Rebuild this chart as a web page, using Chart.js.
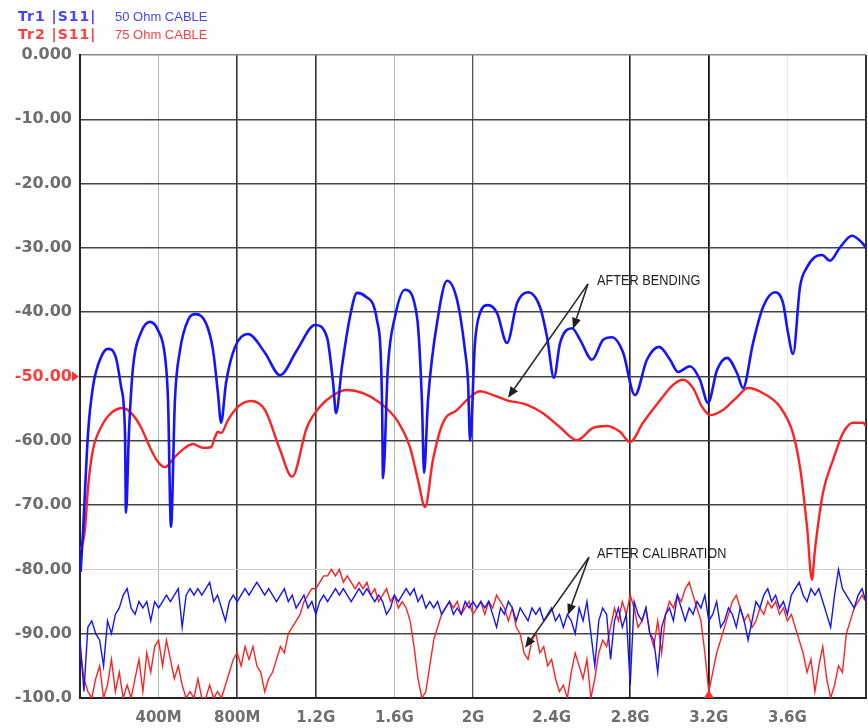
<!DOCTYPE html>
<html>
<head>
<meta charset="utf-8">
<script src="https://cdn.jsdelivr.net/npm/chart.js@4.4.0/dist/chart.umd.min.js"></script>
<style>
  html, body { margin: 0; padding: 0; background: #fff; }
  #wrap { width: 868px; height: 728px; position: relative; }
</style>
</head>
<body>
<div id="wrap"><canvas id="s11Chart"></canvas></div>
<script>
// x axis: frequency in GHz, y axis: |S11| in dB
const xTickLabels = ['', '400M', '800M', '1.2G', '1.6G', '2G', '2.4G', '2.8G', '3.2G', '3.6G', ''];
const yTickLabels = ['-100.0', '-90.00', '-80.00', '-70.00', '-60.00', '-50.00', '-40.00', '-30.00', '-20.00', '-10.00', '0.000'];

// Tr1, 50 Ohm cable, after bending
const tr1BendGHz = [0.003,0.015,0.041,0.066,0.107,0.142,0.183,0.209,0.229,0.234,0.249,0.270,0.310,0.356,0.397,0.433,0.448,0.463,0.483,0.509,
  0.550,0.590,0.641,0.677,0.702,0.718,0.743,0.789,0.855,0.941,1.018,1.104,1.196,1.257,1.288,1.303,1.333,1.374,1.410,1.455,
  1.511,1.537,1.542,1.567,1.603,1.654,1.715,1.740,1.751,1.771,1.822,1.868,1.919,1.959,1.975,1.985,2.010,2.036,2.076,2.122,
  2.173,2.224,2.280,2.341,2.377,2.412,2.443,2.504,2.545,2.606,2.662,2.707,2.763,2.824,2.885,2.947,3.003,3.043,3.104,3.155,
  3.196,3.242,3.293,3.344,3.374,3.425,3.476,3.537,3.578,3.603,3.629,3.664,3.700,3.740,3.776,3.817,3.868,3.929,3.980,4.000];
const tr1BendDb = [-80.4,-74.3,-58.8,-51.6,-47.0,-45.7,-47.1,-51.6,-58.8,-71.2,-58.8,-48.5,-43.2,-41.5,-42.8,-47.0,-53.7,-73.4,-53.7,-45.9,
  -41.2,-40.3,-41.7,-45.9,-52.6,-57.2,-51.0,-45.4,-43.4,-46.3,-49.8,-45.9,-42.0,-43.9,-51.0,-55.7,-48.5,-40.7,-37.0,-37.6,
  -41.2,-53.7,-65.8,-48.5,-40.7,-36.5,-40.7,-53.7,-65.0,-53.7,-40.7,-35.1,-38.1,-45.9,-51.0,-60.0,-44.8,-40.1,-38.9,-40.1,
  -44.8,-38.6,-36.9,-39.2,-43.9,-50.2,-44.8,-42.5,-44.3,-47.4,-44.3,-43.9,-46.2,-52.9,-47.4,-45.4,-47.4,-49.3,-48.4,-50.5,
  -54.1,-49.0,-47.1,-49.5,-51.8,-44.8,-39.2,-36.9,-38.6,-43.2,-46.5,-36.1,-33.0,-31.4,-31.1,-32.0,-29.9,-28.1,-29.2,-30.0];

// Tr2, 75 Ohm cable, after bending
const tr2BendGHz = [0.005,0.025,0.041,0.066,0.107,0.158,0.219,0.270,0.310,0.356,0.397,0.433,0.483,0.534,0.575,0.626,0.667,0.687,0.702,0.718,
  0.753,0.804,0.870,0.941,1.018,1.079,1.155,1.221,1.288,1.359,1.440,1.527,1.613,1.679,1.720,1.756,1.796,1.847,1.919,1.985,
  2.036,2.102,2.173,2.275,2.356,2.443,2.529,2.611,2.682,2.748,2.799,2.865,2.952,3.018,3.069,3.120,3.165,3.206,3.272,3.344,
  3.399,3.476,3.562,3.628,3.664,3.700,3.725,3.740,3.781,3.832,3.883,3.934,3.985,4.000];
const tr2BendDb = [-77.0,-73.9,-67.2,-61.4,-57.9,-55.7,-54.9,-56.0,-57.9,-61.0,-63.3,-64.1,-62.5,-61.1,-60.5,-61.1,-61.0,-59.4,-58.6,-58.8,
  -56.8,-54.7,-53.8,-55.2,-61.4,-65.6,-57.9,-54.7,-52.9,-52.1,-52.6,-54.1,-56.8,-61.0,-66.1,-70.3,-63.0,-57.2,-55.2,-53.2,
  -52.3,-52.9,-53.7,-54.4,-55.7,-57.9,-59.9,-58.0,-57.7,-58.6,-60.2,-57.2,-53.7,-51.3,-50.5,-51.8,-54.7,-56.0,-55.2,-53.2,
  -51.8,-52.6,-54.7,-58.8,-64.1,-73.4,-81.6,-77.0,-68.1,-63.0,-58.8,-57.2,-57.2,-57.7];

// after calibration: sweep 0 .. 4 GHz, 201 points (20 MHz step)
const calGHz = Array.from({ length: 201 }, (_, i) => i * 0.02);
const tr1CalDb = [
  -91,-99,-89,-88,-90,-91,-95,-88,-90,-87, -86,-84,-83,-86,-87,-85,-86,-85,-88,-85,
  -86,-85,-84,-85,-84,-83,-89,-84,-83,-84, -83,-84,-83,-82,-85,-84,-86,-88,-85,-84,
  -85,-84,-83,-84,-83,-82,-83,-84,-83,-84, -85,-84,-83,-85,-84,-86,-85,-84,-86,-85,
  -87,-85,-84,-85,-84,-83,-84,-83,-84,-85, -84,-83,-84,-83,-84,-85,-84,-85,-87,-86,
  -84,-85,-84,-83,-84,-83,-85,-84,-86,-85, -86,-85,-87,-86,-85,-87,-86,-87,-85,-86,
  -85,-86,-85,-86,-85,-87,-89,-86,-87,-85, -86,-88,-86,-87,-88,-86,-87,-86,-88,-87,
  -86,-88,-87,-89,-87,-88,-90,-86,-88,-85, -90,-95,-88,-86,-87,-94,-88,-86,-89,-87,
  -98,-85,-87,-88,-86,-90,-91,-96,-89,-87, -86,-88,-84,-86,-88,-86,-87,-85,-86,-84,
  -88,-87,-85,-89,-88,-86,-87,-89,-86,-88, -91,-88,-85,-86,-84,-83,-85,-84,-86,-85,
  -87,-84,-83,-82,-84,-85,-83,-84,-83,-85, -87,-89,-84,-80,-83,-84,-85,-86,-84,-83,
  -85];
const tr2CalDb = [
  -92,-97,-99,-100,-97,-95,-100,-98,-94,-99, -96,-100,-98,-100,-97,-94,-99,-93,-96,-92,
  -91,-95,-91,-94,-97,-95,-98,-100,-99,-100, -97,-100,-100,-98,-100,-99,-100,-98,-96,-94,
  -93,-95,-92,-94,-92,-95,-96,-99,-97,-96, -94,-92,-93,-90,-89,-88,-87,-85,-84,-83,
  -83,-82,-81,-81,-80,-81,-80,-82,-81,-82, -83,-82,-83,-82,-84,-83,-85,-84,-83,-85,
  -84,-86,-85,-86,-88,-92,-97,-100,-99,-95, -91,-89,-87,-86,-85,-86,-85,-87,-86,-85,
  -87,-86,-85,-87,-85,-86,-84,-85,-86,-88, -86,-89,-90,-93,-94,-91,-90,-93,-92,-95,
  -94,-97,-99,-98,-100,-96,-93,-95,-97,-94, -100,-97,-93,-91,-92,-89,-86,-88,-85,-87,
  -84,-86,-89,-88,-86,-90,-92,-88,-93,-87, -85,-86,-84,-85,-83,-82,-84,-86,-88,-93,
  -99,-96,-93,-91,-89,-87,-85,-84,-86,-88, -87,-89,-88,-86,-87,-85,-86,-85,-87,-86,
  -88,-87,-89,-91,-93,-96,-94,-99,-95,-92, -97,-100,-98,-95,-96,-90,-88,-86,-85,-84,
  -85];

const BLUE = '#1414ff';
const RED = '#ff2222';

// vertical grid lines are uneven in the original screenshot
const xGridColors = ['#222', '#a9bfa9', '#333', '#333', '#a9bfa9', '#555', 'rgba(0,0,0,0)', '#222', '#111', '#ececec', '#333'];
const xGridWidths = [2, 1, 1.6, 1.6, 1, 1.3, 0, 1.6, 1.8, 1, 2];

const toPoints = (xs, ys) => xs.map((f, i) => ({ x: f, y: ys[i] }));

function arrow(ctx, x0, y0, x1, y1) {
  const ang = Math.atan2(y1 - y0, x1 - x0);
  const len = 11, half = 4.5;
  const bx = x1 - len * Math.cos(ang), by = y1 - len * Math.sin(ang);
  ctx.beginPath();
  ctx.moveTo(x0, y0);
  ctx.lineTo(bx, by);
  ctx.stroke();
  ctx.beginPath();
  ctx.moveTo(x1, y1);
  ctx.lineTo(bx + half * Math.sin(ang), by - half * Math.cos(ang));
  ctx.lineTo(bx - half * Math.sin(ang), by + half * Math.cos(ang));
  ctx.closePath();
  ctx.fill();
}

function narrowText(ctx, text, px, py) {
  ctx.save();
  ctx.translate(px, py);
  ctx.scale(0.85, 1);
  ctx.fillText(text, 0, 0);
  ctx.restore();
}

const overlay = {
  id: 'overlay',
  afterDraw(chart) {
    const { ctx, scales: { x, y } } = chart;
    ctx.save();

    // trace legend
    ctx.textBaseline = 'middle';
    ctx.letterSpacing = '1px';
    ctx.font = 'bold 14px "DejaVu Sans"';
    ctx.fillStyle = '#4646ff';
    ctx.fillText('Tr1 |S11|', 18, 17);
    ctx.fillStyle = '#ff4040';
    ctx.fillText('Tr2 |S11|', 18, 35);
    ctx.letterSpacing = '0px';
    ctx.font = '13px "Liberation Sans"';
    ctx.fillStyle = '#4646ff';
    ctx.fillText('50 Ohm CABLE', 115, 17);
    ctx.fillStyle = '#ff4040';
    ctx.fillText('75 Ohm CABLE', 115, 35);

    // reference level and marker triangles
    ctx.fillStyle = '#ff3030';
    const ry = y.getPixelForValue(-50);
    ctx.beginPath();
    ctx.moveTo(x.left - 8, ry - 5);
    ctx.lineTo(x.left - 1, ry);
    ctx.lineTo(x.left - 8, ry + 5);
    ctx.closePath();
    ctx.fill();
    const mx = x.getPixelForValue(3.2);
    ctx.beginPath();
    ctx.moveTo(mx - 5, y.bottom);
    ctx.lineTo(mx, y.bottom - 8);
    ctx.lineTo(mx + 5, y.bottom);
    ctx.closePath();
    ctx.fill();

    // annotations
    ctx.fillStyle = '#1e1e1e';
    ctx.strokeStyle = '#2a2a2a';
    ctx.lineWidth = 1.6;
    ctx.font = '15px "Liberation Sans"';
    const P = (f, db) => [x.getPixelForValue(f), y.getPixelForValue(db)];

    let [tx, ty] = P(2.631, -35.1);
    narrowText(ctx, 'AFTER BENDING', tx, ty);
    let [ox, oy] = P(2.585, -35.6);
    arrow(ctx, ox, oy, ...P(2.509, -42.6));
    arrow(ctx, ox, oy, ...P(2.178, -53.3));

    [tx, ty] = P(2.631, -77.6);
    narrowText(ctx, 'AFTER CALIBRATION', tx, ty);
    [ox, oy] = P(2.590, -78.1);
    arrow(ctx, ox, oy, ...P(2.483, -87.1));
    arrow(ctx, ox, oy, ...P(2.265, -92.2));

    ctx.restore();
  }
};

new Chart(document.getElementById('s11Chart'), {
  type: 'line',
  data: {
    datasets: [
      { label: 'Tr1 after bending', data: toPoints(tr1BendGHz, tr1BendDb), borderColor: BLUE, borderWidth: 2.6,
        pointRadius: 0, cubicInterpolationMode: 'monotone' },
      { label: 'Tr2 after bending', data: toPoints(tr2BendGHz, tr2BendDb), borderColor: RED, borderWidth: 2.4,
        pointRadius: 0, cubicInterpolationMode: 'monotone' },
      { label: 'Tr1 after calibration', data: toPoints(calGHz, tr1CalDb), borderColor: BLUE, borderWidth: 1.4,
        pointRadius: 0, tension: 0 },
      { label: 'Tr2 after calibration', data: toPoints(calGHz, tr2CalDb), borderColor: RED, borderWidth: 1.4,
        pointRadius: 0, tension: 0 }
    ]
  },
  options: {
    animation: false,
    responsive: true,
    maintainAspectRatio: false,
    layout: { padding: { top: 55, right: 2, left: 0, bottom: 0 } },
    plugins: { legend: { display: false }, tooltip: { enabled: false } },
    scales: {
      x: {
        type: 'linear', min: 0, max: 4,
        ticks: {
          stepSize: 0.4, autoSkip: false, maxRotation: 0, padding: 11,
          callback: (v, i) => xTickLabels[i],
          color: '#6e6e6e', font: { family: 'DejaVu Sans', size: 15, weight: 'bold' }
        },
        grid: { color: c => xGridColors[c.index], lineWidth: c => xGridWidths[c.index], drawTicks: false },
        border: { color: '#222', width: 2 },
        afterFit(s) { s.height = 30; s.paddingLeft = 0; s.paddingRight = 0; }
      },
      y: {
        min: -100, max: 0,
        ticks: {
          stepSize: 10, padding: 8,
          callback: (v, i) => yTickLabels[i],
          color: c => (c.tick && c.tick.value === -50 ? '#ff3b3b' : '#6e6e6e'),
          font: { family: 'DejaVu Sans', size: 16, weight: 'bold' }
        },
        grid: {
          color: c => (c.tick.value === -80 ? '#cfcfcf' : c.tick.value === 0 ? '#888' : '#444'),
          lineWidth: c => (c.tick.value === -80 ? 1 : 1.5),
          drawTicks: false
        },
        border: { color: '#222', width: 2 },
        afterFit(s) { s.width = 80; s.paddingTop = 0; s.paddingBottom = 0; }
      }
    }
  },
  plugins: [overlay]
});
</script>
</body>
</html>
